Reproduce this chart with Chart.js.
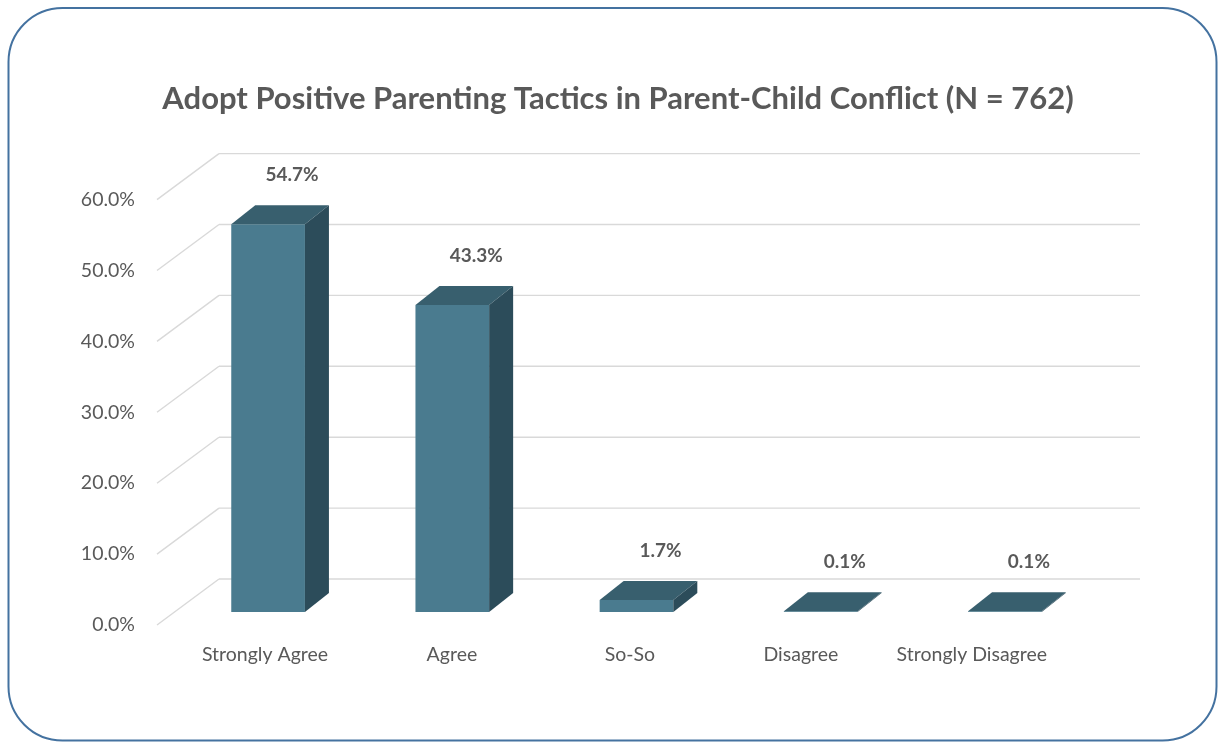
<!DOCTYPE html>
<html>
<head>
<meta charset="utf-8">
<script src="https://cdn.jsdelivr.net/npm/chart.js@4.4.1/dist/chart.umd.min.js"></script>
<style>
  html, body { margin: 0; padding: 0; background: #ffffff; }
  #wrap { width: 1218px; height: 742px; position: relative; }
</style>
</head>
<body>
<div id="wrap"><canvas id="c" width="1218" height="742"></canvas></div>
<script>
// ---- data ----
const categories = ['Strongly Agree', 'Agree', 'So-So', 'Disagree', 'Strongly Disagree'];
const values = [54.7, 43.3, 1.7, 0.1, 0.1];
const valueLabels = ['54.7%', '43.3%', '1.7%', '0.1%', '0.1%'];
const yTicks = [0, 10, 20, 30, 40, 50, 60];
const chartTitle = 'Adopt Positive Parenting Tactics in Parent-Child Conflict (N = 762)';

// ---- style ----
const FONT = 'Lato, "Open Sans", sans-serif';
const TEXT = '#595959';
const FRONT = '#4A7B8F', TOP = '#385F6E', SIDE = '#2C4C5A';
const DEPTH_DX = 24, DEPTH_DY = -19;
const BACK_DX = 43, BACK_DY = -33, FRONT_DX = -19, FRONT_DY = 13;
// category label placement on the front plane, as fractions of the plot width
const LABEL_POS = [0.0966, 0.2996, 0.4928, 0.6785, 0.8641];

const threeD = {
  id: 'threeD',
  beforeDraw(chart) {
    const ctx = chart.ctx;
    ctx.save();
    ctx.fillStyle = '#ffffff';
    ctx.fillRect(0, 0, chart.width, chart.height);
    ctx.beginPath();
    ctx.roundRect(8.5, 8, 1208, 732.5, 54);
    ctx.strokeStyle = '#4472A0';
    ctx.lineWidth = 2;
    ctx.stroke();
    ctx.restore();
  },
  beforeDatasetsDraw(chart) {
    const ctx = chart.ctx, ys = chart.scales.y, a = chart.chartArea;
    ctx.save();
    ctx.strokeStyle = '#D9D9D9';
    ctx.lineWidth = 1.4;
    yTicks.forEach(v => {
      const p = ys.getPixelForValue(v);
      ctx.beginPath();
      ctx.moveTo(a.left + BACK_DX, p + BACK_DY);
      ctx.lineTo(a.right + BACK_DX, p + BACK_DY);
      ctx.moveTo(a.left + FRONT_DX, p + FRONT_DY);
      ctx.lineTo(a.left + BACK_DX, p + BACK_DY);
      ctx.stroke();
    });
    ctx.restore();
  },
  afterDatasetsDraw(chart) {
    const ctx = chart.ctx;
    const meta = chart.getDatasetMeta(0);
    ctx.save();
    meta.data.forEach((bar, i) => {
      const { x, y, base, width } = bar.getProps(['x', 'y', 'base', 'width'], true);
      const l = x - width / 2, r = x + width / 2;
      // top face
      ctx.beginPath();
      ctx.moveTo(l, y);
      ctx.lineTo(l + DEPTH_DX, y + DEPTH_DY);
      ctx.lineTo(r + DEPTH_DX, y + DEPTH_DY);
      ctx.lineTo(r, y);
      ctx.closePath();
      ctx.fillStyle = TOP;
      ctx.fill();
      // side face
      ctx.beginPath();
      ctx.moveTo(r, y);
      ctx.lineTo(r + DEPTH_DX, y + DEPTH_DY);
      ctx.lineTo(r + DEPTH_DX, base + DEPTH_DY);
      ctx.lineTo(r, base);
      ctx.closePath();
      ctx.fillStyle = SIDE;
      ctx.fill();
      // value label
      ctx.font = 'bold 19px ' + FONT;
      ctx.fillStyle = TEXT;
      ctx.textAlign = 'center';
      ctx.textBaseline = 'middle';
      ctx.fillText(valueLabels[i], x + 24, y - 49);
    });
    ctx.restore();
  }
};

new Chart(document.getElementById('c'), {
  type: 'bar',
  data: {
    labels: categories,
    datasets: [{
      data: values,
      backgroundColor: FRONT,
      borderWidth: 0,
      barPercentage: 0.4,
      categoryPercentage: 1.0
    }]
  },
  options: {
    responsive: false,
    devicePixelRatio: 1,
    animation: false,
    layout: { padding: { left: 18, right: 0, top: 0, bottom: 0 } },
    plugins: {
      legend: { display: false },
      tooltip: { enabled: false },
      title: {
        display: true,
        text: chartTitle,
        color: TEXT,
        font: { family: FONT, size: 31, weight: 'bold', lineHeight: 1.2 },
        padding: { top: 80.4, bottom: 69 }
      }
    },
    scales: {
      x: { type: 'category', display: false, offset: true },
      x2: {
        type: 'linear',
        position: 'bottom',
        offset: false,
        min: 0,
        max: 1,
        afterBuildTicks: s => {
          s.ticks = categories.map((c, i) => ({ value: s.min + LABEL_POS[i] * (s.max - s.min) }));
        },
        afterFit: s => { s.height = 130; },
        grid: { display: false, drawTicks: false, offset: false },
        border: { display: false },
        ticks: {
          autoSkip: false,
          maxRotation: 0,
          padding: 31,
          color: TEXT,
          font: { family: FONT, size: 19.5 },
          callback: (v, i) => categories[i]
        }
      },
      y: {
        min: 0,
        max: 60,
        afterBuildTicks: s => { s.ticks = yTicks.map(v => ({ value: v })); },
        afterFit: s => { s.width = 158; },
        grid: { display: false, drawTicks: false },
        border: { display: false },
        ticks: {
          padding: 41,
          labelOffset: 13,
          color: TEXT,
          font: { family: FONT, size: 19.5 },
          callback: v => v.toFixed(1) + '%'
        }
      },
      yRight: {
        type: 'linear',
        position: 'right',
        display: true,
        afterFit: s => { s.width = 121; },
        grid: { display: false, drawTicks: false },
        border: { display: false },
        ticks: { display: false }
      }
    }
  },
  plugins: [threeD]
});
</script>
</body>
</html>
